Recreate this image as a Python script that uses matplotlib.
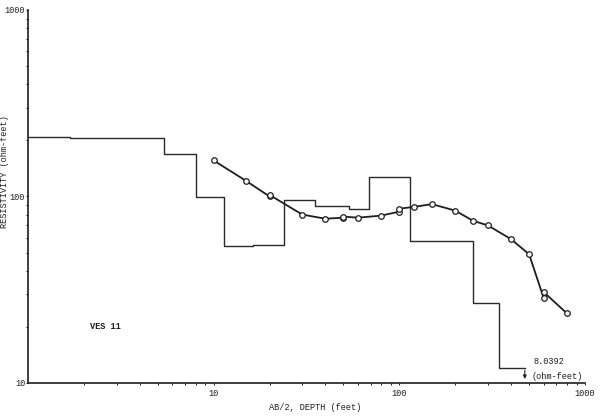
"""
 VES 11 sounding curve with layered resistivity model.
"""

import matplotlib
matplotlib.use("Agg")
import matplotlib.pyplot as plt
from matplotlib.ticker import LogLocator, NullFormatter, FixedLocator, FixedFormatter

# field data: AB/2 spacing (feet) and apparent resistivity (ohm-feet)
ab2 = [10, 15, 20, 20, 30, 40, 50, 50, 60, 80, 100, 100, 120, 150, 200, 250, 300, 400, 500, 600, 600, 800]
rho_app = [156, 121, 100, 102, 80, 76, 77, 78, 77, 79, 83, 86, 88, 91, 84, 74, 70, 59, 49, 28.4, 30.7, 23.6]

# interpreted layer model: top depth of each layer (feet) and resistivity
layer_top = [1, 1.69, 5.4, 8.0, 11.3, 16.2, 23.9, 35.2, 53.7, 68.8, 114.7, 248, 343, 474]
layer_rho = [209, 205, 169, 99, 54, 55, 96, 89, 86, 128, 58, 26.7, 12.1, 12.1]

last_rho = "8.0392"
ink = "#1e1e1e"
font = "Liberation Mono"

fig = plt.figure(figsize=(6, 4.18), dpi=100)
ax = fig.add_axes([28 / 600, 1 - 383 / 418, 557 / 600, 373 / 418])
ax.set_xscale("log")
ax.set_yscale("log")
ax.set_xlim(1, 1000)
ax.set_ylim(10, 1000)

ax.plot(layer_top, layer_rho, drawstyle="steps-post", color="#2a2a2a", lw=1.0)
ax.annotate("", xy=(layer_top[-1], 10.15), xytext=(layer_top[-1], layer_rho[-1]),
            arrowprops=dict(arrowstyle="-|>", color=ink, lw=0.8, mutation_scale=5))

ax.plot(ab2, rho_app, color=ink, lw=1.3, marker="o", ms=4,
        mfc="white", mec=ink, mew=0.9)

ax.text(525, 13.1, last_rho, fontsize=6.2, family=font, color=ink, va="center")
ax.text(518, 10.8, "(ohm-feet)", fontsize=6.2, family=font, color=ink, va="center")
ax.text(2.16, 20.2, "VES 11", fontsize=6.2, family=font, weight="bold", color=ink, va="center")

for s in ["top", "right"]:
    ax.spines[s].set_visible(False)
for s in ["left", "bottom"]:
    ax.spines[s].set_color(ink)
    ax.spines[s].set_linewidth(1.2)

ax.xaxis.set_major_locator(FixedLocator([10, 100, 1000]))
ax.xaxis.set_major_formatter(FixedFormatter(["10", "100", "1000"]))
ax.yaxis.set_major_locator(FixedLocator([10, 100, 1000]))
ax.yaxis.set_major_formatter(FixedFormatter(["10", "100", "1000"]))
ax.xaxis.set_minor_locator(LogLocator(base=10, subs=range(2, 10)))
ax.yaxis.set_minor_locator(LogLocator(base=10, subs=range(2, 10)))
ax.xaxis.set_minor_formatter(NullFormatter())
ax.yaxis.set_minor_formatter(NullFormatter())
ax.tick_params(which="both", direction="out", length=1.5, width=0.7, color=ink,
               labelsize=6.2, labelcolor=ink)
ax.tick_params(axis="y", pad=0.5)
ax.tick_params(axis="x", pad=3)
for lab in ax.get_xticklabels() + ax.get_yticklabels():
    lab.set_family(font)

fig.text(315 / 600, 1 - 408 / 418, "AB/2, DEPTH (feet)", fontsize=6.2, family=font,
         color=ink, ha="center", va="center")
fig.text(5 / 600, 1 - 172 / 418, "RESISTIVITY (ohm-feet)", fontsize=6.2, family=font,
         color=ink, ha="center", va="center", rotation=90)

fig.savefig("out.png", dpi=100)
